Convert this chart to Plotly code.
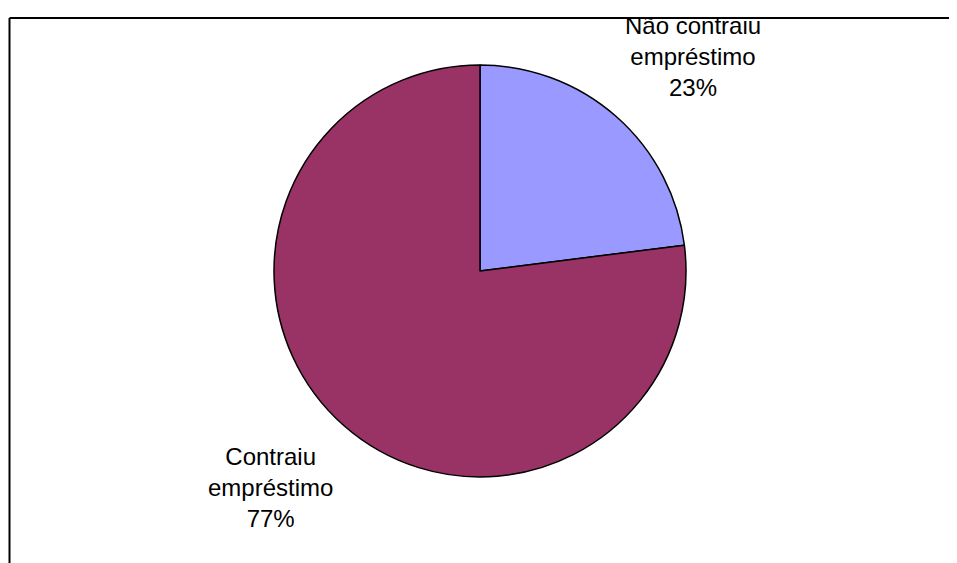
import plotly.graph_objects as go

labels = ["Não contraiu empréstimo", "Contraiu empréstimo"]
values = [23, 77]
colors = ["#9999FF", "#993366"]
label_texts = ["Não contraiu<br>empréstimo<br>23%", "Contraiu<br>empréstimo<br>77%"]

# page body has an 8px margin; work in page pixel coordinates and offset
OFF = 8
W, H = 957 - OFF, 563 - OFF
cx, cy, r = 480 - OFF, 271 - OFF, 206

fig = go.Figure(go.Pie(
    labels=labels, values=values, sort=False, direction="clockwise", rotation=0,
    marker=dict(colors=colors, line=dict(color="black", width=1.5)),
    textinfo="none", hoverinfo="label+percent", showlegend=False,
    domain=dict(x=[(cx - r) / W, (cx + r) / W], y=[1 - (cy + r) / H, 1 - (cy - r) / H]),
))

label_pos = [(693 - OFF, 56 - OFF), (270 - OFF, 487 - OFF)]
for t, (px, py) in zip(label_texts, label_pos):
    fig.add_annotation(text=t, x=px / W, y=1 - py / H, xref="paper", yref="paper",
                       showarrow=False, xanchor="center", yanchor="middle",
                       font=dict(family="Liberation Sans, Arial", size=24, color="black"))

top_y = 1 - (18 - OFF) / H
left_x = (9.5 - OFF) / W
fig.add_shape(type="line", xref="paper", yref="paper", x0=left_x, x1=1, y0=top_y, y1=top_y,
              line=dict(color="black", width=2))
fig.add_shape(type="line", xref="paper", yref="paper", x0=left_x, x1=left_x, y0=0, y1=top_y,
              line=dict(color="black", width=2))

fig.update_layout(width=W, height=H, margin=dict(l=0, r=0, t=0, b=0),
                  paper_bgcolor="white", plot_bgcolor="white")
fig.write_html("out.html")
